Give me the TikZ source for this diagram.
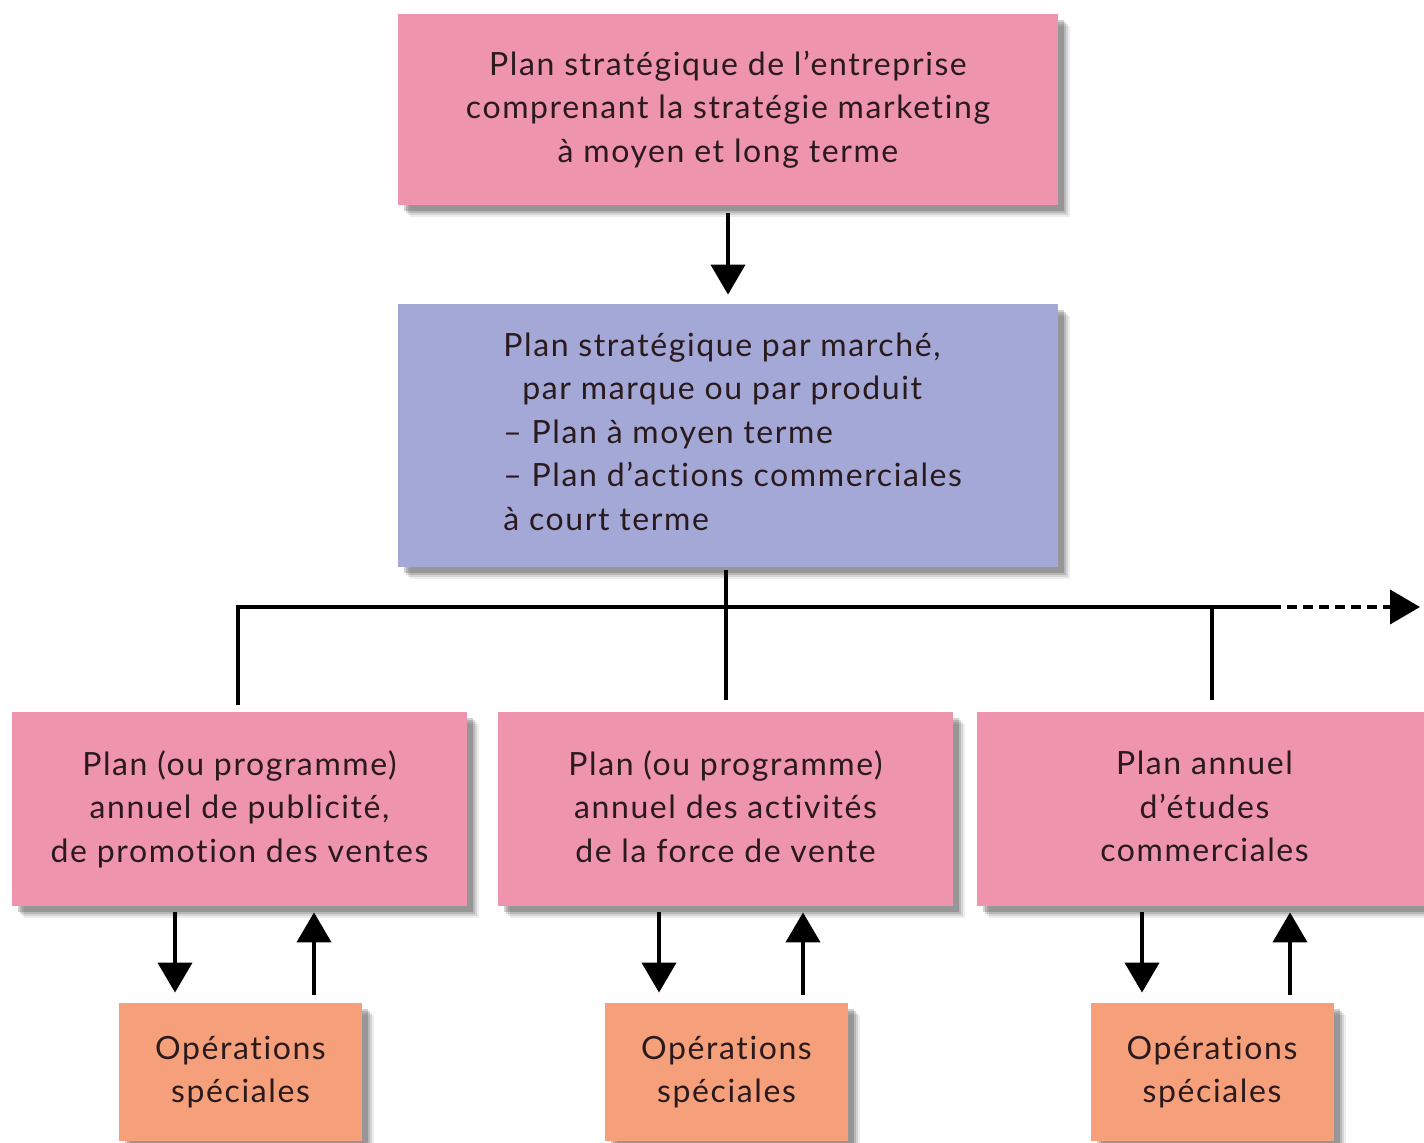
\documentclass[tikz,border=0pt]{standalone}
\usepackage{fontspec}
\setmainfont{Lato}[LetterSpace=5,Ligatures={NoCommon}]
\usetikzlibrary{arrows.meta,shadows,calc}
\definecolor{pinkbox}{HTML}{EF94AD}
\definecolor{bluebox}{HTML}{A3A8D6}
\definecolor{orangebox}{HTML}{F5A07A}
\definecolor{textcol}{HTML}{2A1A1E}
\begin{document}
\begin{tikzpicture}[x=0.5pt,y=-0.5pt,
  softshadow/.style={
    general shadow={shadow xshift=6pt,shadow yshift=-6pt,fill=black,opacity=0.07},
    general shadow={shadow xshift=5pt,shadow yshift=-5pt,fill=black,opacity=0.1},
    general shadow={shadow xshift=4pt,shadow yshift=-4pt,fill=black,opacity=0.14},
    general shadow={shadow xshift=3pt,shadow yshift=-3pt,fill=black,opacity=0.18}},
  boxbase/.style={rectangle, draw=none, inner sep=0pt, align=center, text=textcol,
    font=\fontsize{16}{21.75}\selectfont, softshadow},
  pinkb/.style={boxbase, fill=pinkbox},
  blueb/.style={boxbase, fill=bluebox},
  orangeb/.style={boxbase, fill=orangebox, minimum width=121.5pt, minimum height=69pt},
  txt/.style={inner sep=0pt, text=textcol, font=\fontsize{16}{21.75}\selectfont},
  ln/.style={line width=2pt, draw=black},
  arr/.style={line width=2pt, draw=black, -{Triangle[width=17pt,length=15pt]}}
]
\useasboundingbox (0,0) rectangle (1424,1143);

% top and middle boxes
\node[pinkb, minimum width=330pt, minimum height=95.5pt] (top) at (728,109.5)
  {Plan stratégique de l’entreprise\\comprenant la stratégie marketing\\à moyen et long terme};
\node[blueb, minimum width=330pt, minimum height=131.5pt] (blue) at (728,435.5) {};
\node[txt, anchor=west, align=left] (bluetxt) at (503,431.5)
  {Plan stratégique par marché,\\\hspace*{9.5pt}par marque ou par produit\\– Plan à moyen terme\\– Plan d’actions commerciales\\à court terme};

% bottom boxes
\node[pinkb, minimum width=227.5pt, minimum height=97pt] (b1) at (239.5,809)
  {Plan (ou programme)\\annuel de publicité,\\de promotion des ventes};
\node[pinkb, minimum width=227.5pt, minimum height=97pt] (b2) at (725.5,809)
  {Plan (ou programme)\\annuel des activités\\de la force de vente\vphantom{p}};
\node[pinkb, minimum width=227.5pt, minimum height=97pt] (b3) at (1204.5,809)
  {Plan annuel\\d’études\\commerciales\vphantom{p}};

% special operations
\node[orangeb] (o1) at (240.5,1072) {Opérations\\spéciales};
\node[orangeb] (o2) at (726.5,1072) {Opérations\\spéciales};
\node[orangeb] (o3) at (1212,1072) {Opérations\\spéciales};

% top arrow
\draw[arr] ([yshift=-4pt]top.south) -- ([yshift=4.5pt]blue.north);

% tree
\coordinate (j) at (726,607);
\coordinate (s) at (1271,607);
\coordinate (e) at (1420,607);
\draw[ln] ([xshift=-1pt,yshift=-1.5pt]blue.south) -- ([xshift=-1pt,yshift=6pt]blue.south |- b2.north);
\draw[ln] ([xshift=-0.75pt,yshift=3.5pt]b1.north) -- ([xshift=-0.75pt]b1.north |- j) -- (s);
\draw[ln] (o3.north |- j) -- ([yshift=6pt]o3.north |- b3.north);
\draw[line width=2pt, dash pattern=on 5pt off 3pt, -{Triangle[width=17pt,length=15pt]}] (s) -- (e);

% arrows to/from special operations
\coordinate (d1) at ([xshift=-32.75pt]o1.north);
\coordinate (u1) at ([xshift=36.75pt]o1.north);
\coordinate (d2) at ([xshift=-33.75pt]o2.north);
\coordinate (u2) at ([xshift=38.25pt]o2.north);
\coordinate (d3) at ([xshift=-35pt]o3.north);
\coordinate (u3) at ([xshift=39pt]o3.north);
\draw[arr] ([yshift=-3pt]d1 |- b1.south) -- ([yshift=5pt]d1);
\draw[arr] ([yshift=4pt]u1) -- ([yshift=-3pt]u1 |- b1.south);
\draw[arr] ([yshift=-3pt]d2 |- b2.south) -- ([yshift=5pt]d2);
\draw[arr] ([yshift=4pt]u2) -- ([yshift=-3pt]u2 |- b2.south);
\draw[arr] ([yshift=-3pt]d3 |- b3.south) -- ([yshift=5pt]d3);
\draw[arr] ([yshift=4pt]u3) -- ([yshift=-3pt]u3 |- b3.south);
\end{tikzpicture}
\end{document}
